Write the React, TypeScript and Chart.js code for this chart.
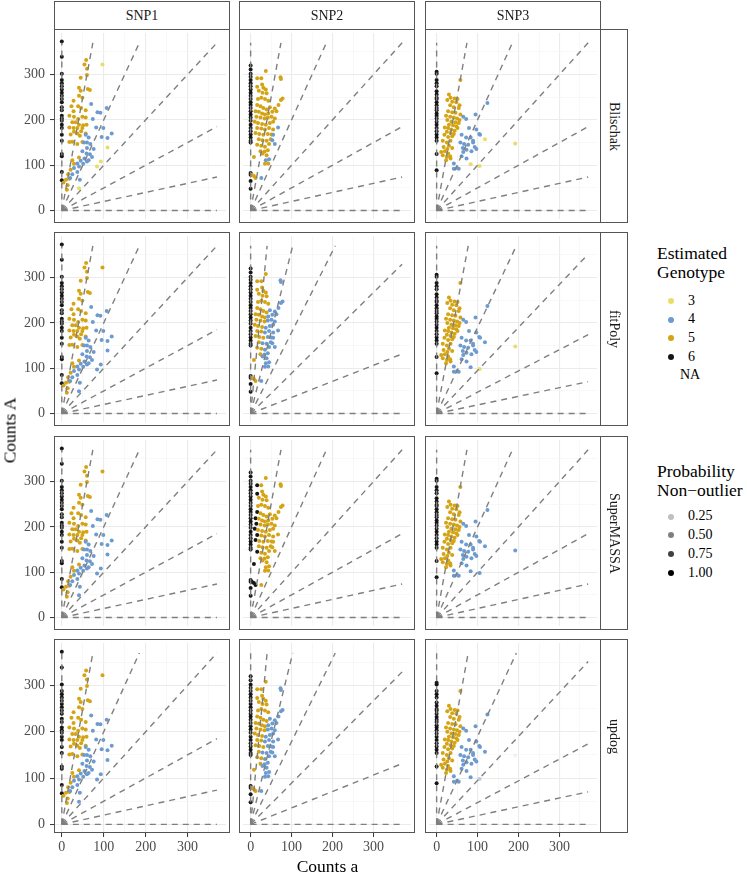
import React, { useEffect, useRef } from "react";
import { Chart, registerables } from "chart.js";
Chart.register(...registerables);

// ---------------- data ----------------
const SNPS = ["SNP1", "SNP2", "SNP3"];
const METHODS = ["Blischak", "fitPoly", "SuperMASSA", "updog"];
const GENOTYPE_LEVELS = ["3", "4", "5", "6", "NA"];
const PROB_LEVELS = [0.25, 0.5, 0.75, 1.0];
const GENO_COLORS: Record<number, string> = { 3: "#E8DD6A", 4: "#6D9BCF", 5: "#D4A414", 6: "#161616" };

const AXIS_MIN = -18.65;
const AXIS_MAX = 391.65;
const GRID_TICKS = [0, 50, 100, 150, 200, 250, 300, 350];
const MAJOR_TICKS = [0, 100, 200, 300];
const LINE_END = 370;

// slopes (A / a) of the expected-ratio lines for genotypes 5..1 (6 = vertical, 0 = horizontal)
const SLOPES_STANDARD = [5, 2, 1, 0.5, 0.2];
const SLOPES_SNP2_SHIFT = [9.2, 3.6, 1.79, 0.89, 0.355];
const SLOPES_SNP3_SHIFT = [4.8, 1.9, 0.95, 0.47, 0.19];
const PANEL_SLOPES = [
  [SLOPES_STANDARD, SLOPES_STANDARD, SLOPES_STANDARD],
  [SLOPES_STANDARD, SLOPES_SNP2_SHIFT, SLOPES_SNP3_SHIFT],
  [SLOPES_STANDARD, SLOPES_STANDARD, SLOPES_STANDARD],
  [SLOPES_STANDARD, SLOPES_SNP2_SHIFT, SLOPES_SNP3_SHIFT],
];

// counts A of samples with counts a = 0 (genotype 6 in every method)
const SNP1_ZERO = [373, 339, 302, 288, 281, 274, 267, 260, 253, 246, 239, 228, 221, 209, 203, 198, 189, 182, 167, 154, 125, 120, 85, 67];
const SNP2_ZERO = [320, 311, 302, 295, 288, 281, 274, 267, 260, 253, 246, 239, 233, 226, 219, 212, 205, 198, 189, 182, 175, 168, 161, 154, 150, 83, 79, 65, 48];
const SNP3_ZERO = [306, 302, 288, 281, 274, 263, 256, 249, 246, 239, 232, 226, 221, 214, 209, 203, 196, 189, 182, 175, 168, 161, 154, 125, 89];

// [counts a, counts A, genotype Blischak, fitPoly, SuperMASSA, updog, updog prob. non-outlier]
const SNP1_POINTS: number[][] = [
  [58, 332, 5, 5, 5, 5], [54, 322, 5, 5, 5, 5], [60, 313, 5, 5, 5, 5], [60, 299, 5, 5, 5, 5], [45, 293, 5, 5, 5, 5],
  [41, 271, 5, 5, 5, 5], [45, 264, 5, 5, 5, 5], [62, 268, 5, 5, 5, 5], [67, 266, 5, 5, 5, 5], [41, 253, 5, 5, 5, 5],
  [49, 249, 5, 5, 5, 5], [28, 242, 5, 5, 5, 5], [23, 230, 5, 5, 5, 5], [39, 230, 5, 5, 5, 5], [46, 226, 5, 5, 5, 5],
  [28, 219, 5, 5, 5, 5], [57, 221, 5, 5, 5, 5], [18, 209, 5, 5, 5, 5], [29, 207, 5, 5, 5, 5], [39, 202, 5, 5, 5, 5],
  [49, 207, 5, 5, 5, 5], [57, 205, 5, 5, 5, 5], [25, 195, 5, 5, 5, 5], [33, 195, 5, 5, 5, 5], [41, 189, 5, 5, 5, 5],
  [51, 188, 5, 5, 5, 5], [59, 189, 5, 5, 5, 5], [18, 183, 5, 5, 5, 5], [28, 182, 5, 5, 5, 5], [37, 182, 5, 5, 5, 5],
  [49, 182, 5, 5, 5, 5], [29, 174, 5, 5, 5, 5], [37, 170, 5, 5, 5, 5], [46, 175, 5, 5, 5, 5], [57, 170, 5, 5, 5, 5],
  [21, 168, 5, 5, 5, 5], [43, 165, 5, 5, 5, 5], [18, 151, 5, 5, 5, 5], [25, 152, 5, 5, 5, 5], [37, 147, 5, 5, 5, 5],
  [49, 151, 5, 5, 5, 5], [25, 111, 5, 5, 5, 5], [41, 117, 5, 5, 5, 5], [29, 103, 5, 5, 5, 5], [21, 90, 5, 5, 5, 5],
  [15, 80, 5, 5, 5, 5], [18, 70, 5, 5, 5, 5], [10, 68, 5, 5, 5, 5], [4, 62, 5, 5, 5, 5], [14, 56, 5, 5, 5, 5],
  [12, 46, 5, 5, 5, 5],
  [70, 235, 4, 4, 4, 4], [85, 217, 4, 4, 4, 4], [92, 216, 4, 4, 4, 4], [107, 226, 4, 4, 4, 4], [74, 202, 4, 4, 4, 4],
  [82, 183, 4, 4, 4, 4], [99, 182, 4, 4, 4, 4], [119, 170, 4, 4, 4, 4], [95, 162, 4, 4, 4, 4], [109, 160, 4, 4, 4, 4],
  [57, 167, 4, 4, 4, 4], [64, 161, 4, 4, 4, 4], [53, 150, 4, 4, 4, 4], [68, 147, 4, 4, 4, 4], [60, 138, 4, 4, 4, 4],
  [76, 136, 4, 4, 4, 4], [49, 131, 4, 4, 4, 4], [59, 126, 4, 4, 4, 4], [67, 124, 4, 4, 4, 4], [72, 118, 4, 4, 4, 4],
  [54, 115, 4, 4, 4, 4], [60, 108, 4, 4, 4, 4], [45, 110, 4, 4, 4, 4], [37, 104, 4, 4, 4, 4], [51, 103, 4, 4, 4, 4],
  [41, 97, 4, 4, 4, 4], [29, 94, 4, 4, 4, 4], [37, 85, 4, 4, 4, 4], [25, 80, 4, 4, 4, 4], [20, 72, 4, 4, 4, 4],
  [43, 68, 4, 4, 4, 4], [64, 111, 4, 4, 4, 4], [60, 150, 4, 4, 4, 4],
  [97, 322, 3, 5, 5, 5], [109, 139, 3, 4, 4, 4], [93, 108, 3, 4, 4, 4], [84, 97, 3, 4, 4, 4], [41, 49, 3, 4, 4, 4],
];

const SNP2_POINTS: number[][] = [
  [37, 308, 5, 5, 5, 5], [16, 292, 5, 5, 6, 5], [26, 292, 5, 5, 5, 5], [28, 278, 5, 5, 5, 5], [16, 273, 5, 5, 6, 5],
  [31, 271, 5, 5, 5, 5], [37, 267, 5, 5, 5, 5], [20, 264, 5, 5, 5, 5], [29, 260, 5, 5, 5, 5], [39, 259, 5, 5, 5, 5],
  [73, 294, 5, 4, 5, 4], [74, 290, 5, 4, 5, 4], [78, 247, 5, 4, 5, 4], [74, 244, 5, 4, 5, 4], [68, 233, 5, 4, 5, 4],
  [18, 246, 5, 5, 5, 5], [26, 249, 5, 5, 5, 5], [35, 246, 5, 5, 5, 5], [43, 242, 5, 5, 5, 5], [16, 233, 5, 5, 6, 5],
  [24, 230, 5, 5, 5, 5], [31, 226, 5, 5, 5, 5], [39, 223, 5, 5, 5, 5], [47, 228, 5, 4, 5, 4], [59, 225, 5, 4, 5, 4],
  [12, 219, 5, 5, 6, 5], [20, 218, 5, 5, 5, 5], [28, 214, 5, 5, 5, 5], [35, 212, 5, 5, 5, 5], [43, 214, 5, 4, 5, 4],
  [53, 218, 5, 4, 5, 4], [63, 219, 5, 4, 5, 4], [14, 207, 5, 5, 6, 5], [24, 205, 5, 5, 5, 5], [34, 203, 5, 5, 5, 5],
  [42, 205, 5, 4, 5, 4], [51, 207, 5, 4, 5, 4], [59, 203, 5, 4, 5, 4], [10, 196, 5, 5, 6, 5], [18, 193, 5, 5, 5, 5],
  [28, 191, 5, 5, 5, 5], [37, 189, 5, 4, 5, 4], [47, 193, 5, 4, 5, 4], [55, 196, 5, 4, 5, 4], [16, 182, 5, 5, 6, 5],
  [26, 181, 5, 5, 5, 5], [35, 179, 5, 4, 5, 4], [45, 182, 5, 4, 5, 4], [55, 179, 5, 4, 5, 4], [12, 171, 5, 5, 6, 5],
  [21, 169, 5, 5, 5, 5], [31, 167, 5, 5, 5, 5], [42, 169, 5, 4, 5, 4], [51, 168, 5, 4, 5, 4], [20, 157, 5, 5, 5, 5],
  [29, 155, 5, 4, 5, 4], [39, 154, 5, 4, 5, 4], [49, 157, 5, 4, 5, 4], [16, 145, 5, 5, 6, 5], [26, 143, 5, 5, 5, 5],
  [35, 141, 5, 4, 5, 4], [45, 147, 5, 4, 5, 4], [24, 131, 5, 5, 5, 5], [34, 130, 5, 4, 5, 4], [42, 133, 5, 4, 5, 4],
  [29, 126, 5, 4, 5, 4], [39, 122, 5, 4, 5, 4], [8, 118, 5, 5, 6, 5], [35, 103, 5, 4, 5, 4], [43, 104, 5, 4, 5, 4],
  [3, 79, 5, 5, 6, 5], [8, 76, 5, 5, 6, 5], [12, 72, 5, 5, 6, 5],
  [67, 183, 4, 4, 5, 4], [55, 167, 4, 4, 5, 4], [53, 155, 4, 4, 5, 4], [59, 147, 4, 4, 5, 4], [45, 113, 4, 4, 5, 4],
  [37, 111, 4, 4, 5, 4], [26, 72, 4, 4, 5, 4],
];

const SNP3_POINTS: number[][] = [
  [58, 288, 5, 5, 5, 5], [30, 256, 5, 5, 5, 5], [34, 249, 5, 5, 5, 5], [44, 247, 5, 5, 5, 5], [51, 246, 5, 5, 5, 5],
  [26, 244, 5, 5, 5, 5], [38, 240, 5, 5, 5, 5], [48, 239, 5, 5, 5, 5], [56, 232, 5, 5, 5, 5], [33, 232, 5, 5, 5, 5],
  [42, 228, 5, 5, 5, 5], [54, 226, 5, 5, 5, 5], [28, 219, 5, 5, 5, 5], [38, 217, 5, 5, 5, 5], [46, 216, 5, 5, 5, 5],
  [58, 212, 5, 5, 5, 5], [23, 209, 5, 5, 5, 5], [33, 207, 5, 5, 5, 5], [42, 205, 5, 5, 5, 5], [50, 203, 5, 5, 5, 5],
  [56, 200, 5, 5, 5, 5], [26, 200, 5, 5, 5, 5], [36, 196, 5, 5, 5, 5], [46, 195, 5, 5, 5, 5], [54, 193, 5, 5, 5, 5],
  [30, 189, 5, 5, 5, 5], [40, 188, 5, 5, 5, 5], [48, 186, 5, 5, 5, 5], [20, 183, 5, 5, 5, 5], [28, 182, 5, 5, 5, 5],
  [36, 179, 5, 5, 5, 5], [44, 176, 5, 5, 5, 5], [51, 182, 5, 5, 5, 5], [25, 174, 5, 5, 5, 5], [34, 171, 5, 5, 5, 5],
  [42, 169, 5, 5, 5, 5], [19, 167, 5, 5, 5, 5], [28, 162, 5, 5, 5, 5], [38, 164, 5, 5, 5, 5], [15, 154, 5, 5, 5, 5],
  [25, 150, 5, 5, 5, 5], [34, 154, 5, 5, 5, 5], [30, 143, 5, 5, 5, 5], [17, 140, 5, 5, 5, 5], [26, 136, 5, 5, 5, 5],
  [38, 138, 5, 5, 5, 5], [11, 129, 5, 5, 5, 5], [20, 131, 5, 5, 5, 5], [28, 126, 5, 5, 5, 5], [15, 122, 5, 5, 5, 5],
  [25, 118, 5, 5, 5, 5], [33, 120, 5, 5, 5, 5], [23, 111, 5, 5, 5, 5], [34, 115, 5, 5, 5, 5],
  [124, 237, 4, 4, 4, 4], [95, 212, 4, 4, 4, 4], [65, 207, 4, 4, 4, 4], [72, 202, 4, 4, 4, 4], [79, 182, 4, 4, 4, 4],
  [97, 179, 4, 4, 4, 4], [104, 169, 4, 4, 4, 4], [106, 167, 4, 4, 4, 4], [61, 167, 4, 4, 4, 4], [72, 161, 4, 4, 4, 4],
  [83, 161, 4, 4, 4, 4], [89, 150, 4, 4, 4, 4], [58, 150, 4, 4, 4, 4], [67, 147, 4, 4, 4, 4], [77, 145, 4, 4, 4, 4],
  [93, 140, 4, 4, 4, 4], [97, 136, 4, 4, 4, 4], [64, 138, 4, 4, 4, 4], [73, 134, 4, 4, 4, 4], [85, 131, 4, 4, 4, 4],
  [65, 129, 4, 4, 4, 4], [61, 120, 4, 4, 4, 4], [73, 115, 4, 4, 4, 4], [42, 104, 4, 4, 4, 4], [50, 94, 4, 4, 4, 4],
  [42, 92, 4, 4, 4, 4], [54, 92, 4, 4, 4, 4], [89, 154, 4, 4, 4, 4],
  [118, 157, 3, 4, 4, 4], [192, 148, 3, 3, 4, 4, 0.12], [83, 102, 3, 4, 4, 4], [105, 98, 3, 3, 4, 4, 0.45],
];

const SNP_ZERO = [SNP1_ZERO, SNP2_ZERO, SNP3_ZERO];
const SNP_POINTS = [SNP1_POINTS, SNP2_POINTS, SNP3_POINTS];

// ---------------- layout ----------------
const FONT = '"Liberation Serif", "Times New Roman", "DejaVu Serif", serif';
Chart.defaults.font.family = FONT;
const COL_LEFT = [54, 239, 425];
const ROW_TOP = [29, 232, 436, 639];
const PW = 176;
const PH = 194;
const Y_AXIS_W = 54;
const X_AXIS_H = 30;
const BORDER = "#555555";

function rgba(hex: string, a: number) {
  const n = parseInt(hex.slice(1), 16);
  return `rgba(${(n >> 16) & 255},${(n >> 8) & 255},${n & 255},${a})`;
}

function buildDatasets(row: number, col: number) {
  const slopes = PANEL_SLOPES[row][col];
  const ends = [
    { x: 0, y: LINE_END },
    ...slopes.map((s) => (s >= 1 ? { x: LINE_END / s, y: LINE_END } : { x: LINE_END, y: LINE_END * s })),
    { x: LINE_END, y: 0 },
  ];
  const lines = ends.map((e) => ({
    data: [{ x: 0, y: 0 }, e],
    showLine: true,
    borderColor: "#7F7F7F",
    borderWidth: 1.4,
    borderDash: [6, 5],
    borderCapStyle: "butt",
    pointRadius: 0,
    fill: false,
  }));
  const zero = SNP_ZERO[col];
  const pts = SNP_POINTS[col];
  const data = [
    ...zero.map((A) => ({ x: 0, y: A })),
    ...pts.map((p) => ({ x: p[0], y: p[1] })),
  ];
  const colors = [
    ...zero.map(() => GENO_COLORS[6]),
    ...pts.map((p) => {
      const g = p[2 + row];
      const a = row === 3 && p[6] !== undefined ? p[6] : 1;
      return rgba(GENO_COLORS[g], a);
    }),
  ];
  const points = {
    data,
    showLine: false,
    pointRadius: 2,
    pointBorderWidth: 0,
    pointBorderColor: "rgba(0,0,0,0)",
    pointBackgroundColor: colors,
  };
  return [...lines, points];
}

function Panel({ row, col }: { row: number; col: number }) {
  const ref = useRef<HTMLCanvasElement>(null);
  const padL = col === 0 ? Y_AXIS_W : 0;
  const padB = row === 3 ? X_AXIS_H : 0;
  useEffect(() => {
    const isMajor = (v: number) => MAJOR_TICKS.includes(v);
    const gridOpts = (showTicks: boolean) => ({
      color: (ctx: any) => (ctx.tick && isMajor(ctx.tick.value) ? "#EBEBEB" : "#F3F3F3"),
      lineWidth: (ctx: any) => (ctx.tick && isMajor(ctx.tick.value) ? 1.1 : 0.6),
      drawTicks: showTicks,
      tickLength: 4,
      tickWidth: 1,
      tickColor: (ctx: any) => (ctx.tick && isMajor(ctx.tick.value) ? "#333333" : "rgba(0,0,0,0)"),
    });
    const tickOpts = (show: boolean, padding: number) => ({
      display: show,
      autoSkip: false,
      maxRotation: 0,
      padding,
      color: "#4D4D4D",
      font: { family: FONT, size: 14 },
      callback: (v: any) => (isMajor(Number(v)) ? String(v) : ""),
    });
    const zeroPad = (s: any) => {
      s.paddingTop = 0;
      s.paddingBottom = 0;
      s.paddingLeft = 0;
      s.paddingRight = 0;
    };
    const chart = new Chart(ref.current as HTMLCanvasElement, {
      type: "scatter",
      data: { datasets: buildDatasets(row, col) as any },
      options: {
        animation: false,
        responsive: false,
        events: [],
        layout: { padding: 0 },
        plugins: { legend: { display: false }, tooltip: { enabled: false } },
        scales: {
          x: {
            type: "linear",
            min: AXIS_MIN,
            max: AXIS_MAX,
            afterBuildTicks: (s: any) => {
              s.ticks = GRID_TICKS.map((v) => ({ value: v }));
            },
            afterFit: (s: any) => {
              s.height = padB;
              zeroPad(s);
            },
            border: { display: false },
            grid: gridOpts(row === 3),
            ticks: tickOpts(row === 3, 2),
          },
          y: {
            type: "linear",
            min: AXIS_MIN,
            max: AXIS_MAX,
            afterBuildTicks: (s: any) => {
              s.ticks = GRID_TICKS.map((v) => ({ value: v }));
            },
            afterFit: (s: any) => {
              s.width = padL;
              zeroPad(s);
            },
            border: { display: false },
            grid: gridOpts(col === 0),
            ticks: tickOpts(col === 0, 5),
          },
        },
      } as any,
    });
    return () => chart.destroy();
  }, [row, col]);
  return (
    <>
      <canvas
        ref={ref}
        width={PW + padL}
        height={PH + padB}
        style={{ position: "absolute", left: COL_LEFT[col] - padL, top: ROW_TOP[row], width: PW + padL, height: PH + padB }}
      />
      <div
        style={{
          position: "absolute",
          left: COL_LEFT[col],
          top: ROW_TOP[row],
          width: PW,
          height: PH,
          border: `1px solid ${BORDER}`,
          boxSizing: "border-box",
          pointerEvents: "none",
        }}
      />
    </>
  );
}

function LegendDot({ x, y, color }: { x: number; y: number; color: string }) {
  return (
    <div
      style={{
        position: "absolute",
        left: x - 3,
        top: y - 3,
        width: 6,
        height: 6,
        borderRadius: "50%",
        background: color,
      }}
    />
  );
}

function Text({ x, y, children, size = 14, color = "#1A1A1A" }: any) {
  return (
    <div
      style={{
        position: "absolute",
        left: x,
        top: y - size * 0.6,
        fontFamily: FONT,
        fontSize: size,
        lineHeight: `${size * 1.2}px`,
        color,
        whiteSpace: "nowrap",
      }}
    >
      {children}
    </div>
  );
}

export default function App() {
  const genoY = [301, 319.5, 338, 357, 375.7];
  const probY = [516.7, 535, 554, 573];
  return (
    <div
      style={{
        position: "absolute",
        left: 0,
        top: 0,
        width: 747,
        height: 874,
        background: "#FFFFFF",
        overflow: "hidden",
        fontFamily: FONT,
      }}
    >
      {METHODS.map((m, r) =>
        SNPS.map((s, c) => <Panel key={`${m}-${s}`} row={r} col={c} />)
      )}
      {SNPS.map((s, c) => (
        <div
          key={s}
          style={{
            position: "absolute",
            left: COL_LEFT[c],
            top: 1,
            width: PW,
            height: 29,
            border: `1px solid ${BORDER}`,
            boxSizing: "border-box",
            background: "#FFFFFF",
            display: "flex",
            alignItems: "center",
            justifyContent: "center",
            fontSize: 14,
            color: "#1A1A1A",
          }}
        >
          {s}
        </div>
      ))}
      {METHODS.map((m, r) => (
        <div
          key={m}
          style={{
            position: "absolute",
            left: COL_LEFT[2] + PW - 1,
            top: ROW_TOP[r],
            width: 28,
            height: PH,
            border: `1px solid ${BORDER}`,
            boxSizing: "border-box",
            background: "#FFFFFF",
            display: "flex",
            alignItems: "center",
            justifyContent: "center",
            fontSize: 14,
            color: "#1A1A1A",
            writingMode: "vertical-rl",
          }}
        >
          {m}
        </div>
      ))}
      {/* axis titles */}
      <div
        style={{
          position: "absolute",
          left: (COL_LEFT[0] + COL_LEFT[2] + PW) / 2 - 60,
          width: 120,
          top: 856,
          textAlign: "center",
          fontSize: 17.5,
          lineHeight: "21px",
          color: "#000",
        }}
      >
        Counts a
      </div>
      <div
        style={{
          position: "absolute",
          left: 10 - 60,
          top: 430.5 - 10.5,
          width: 120,
          height: 21,
          textAlign: "center",
          fontSize: 17.5,
          lineHeight: "21px",
          color: "#000",
          transform: "rotate(-90deg)",
        }}
      >
        Counts A
      </div>
      {/* legend: genotype */}
      <Text x={657} y={253} size={17.5} color="#000">Estimated</Text>
      <Text x={657} y={272} size={17.5} color="#000">Genotype</Text>
      {GENOTYPE_LEVELS.map((g, i) => (
        <React.Fragment key={g}>
          {g !== "NA" && <LegendDot x={671} y={genoY[i]} color={GENO_COLORS[Number(g)]} />}
          <Text x={g === "NA" ? 680 : 688} y={genoY[i]} color="#000">{g}</Text>
        </React.Fragment>
      ))}
      {/* legend: probability */}
      <Text x={657} y={471.7} size={17.5} color="#000">Probability</Text>
      <Text x={657} y={490} size={17.5} color="#000">Non−outlier</Text>
      {PROB_LEVELS.map((p, i) => (
        <React.Fragment key={p}>
          <LegendDot x={671} y={probY[i]} color={rgba("#000000", p)} />
          <Text x={688} y={probY[i]} color="#000">{p.toFixed(2)}</Text>
        </React.Fragment>
      ))}
    </div>
  );
}
